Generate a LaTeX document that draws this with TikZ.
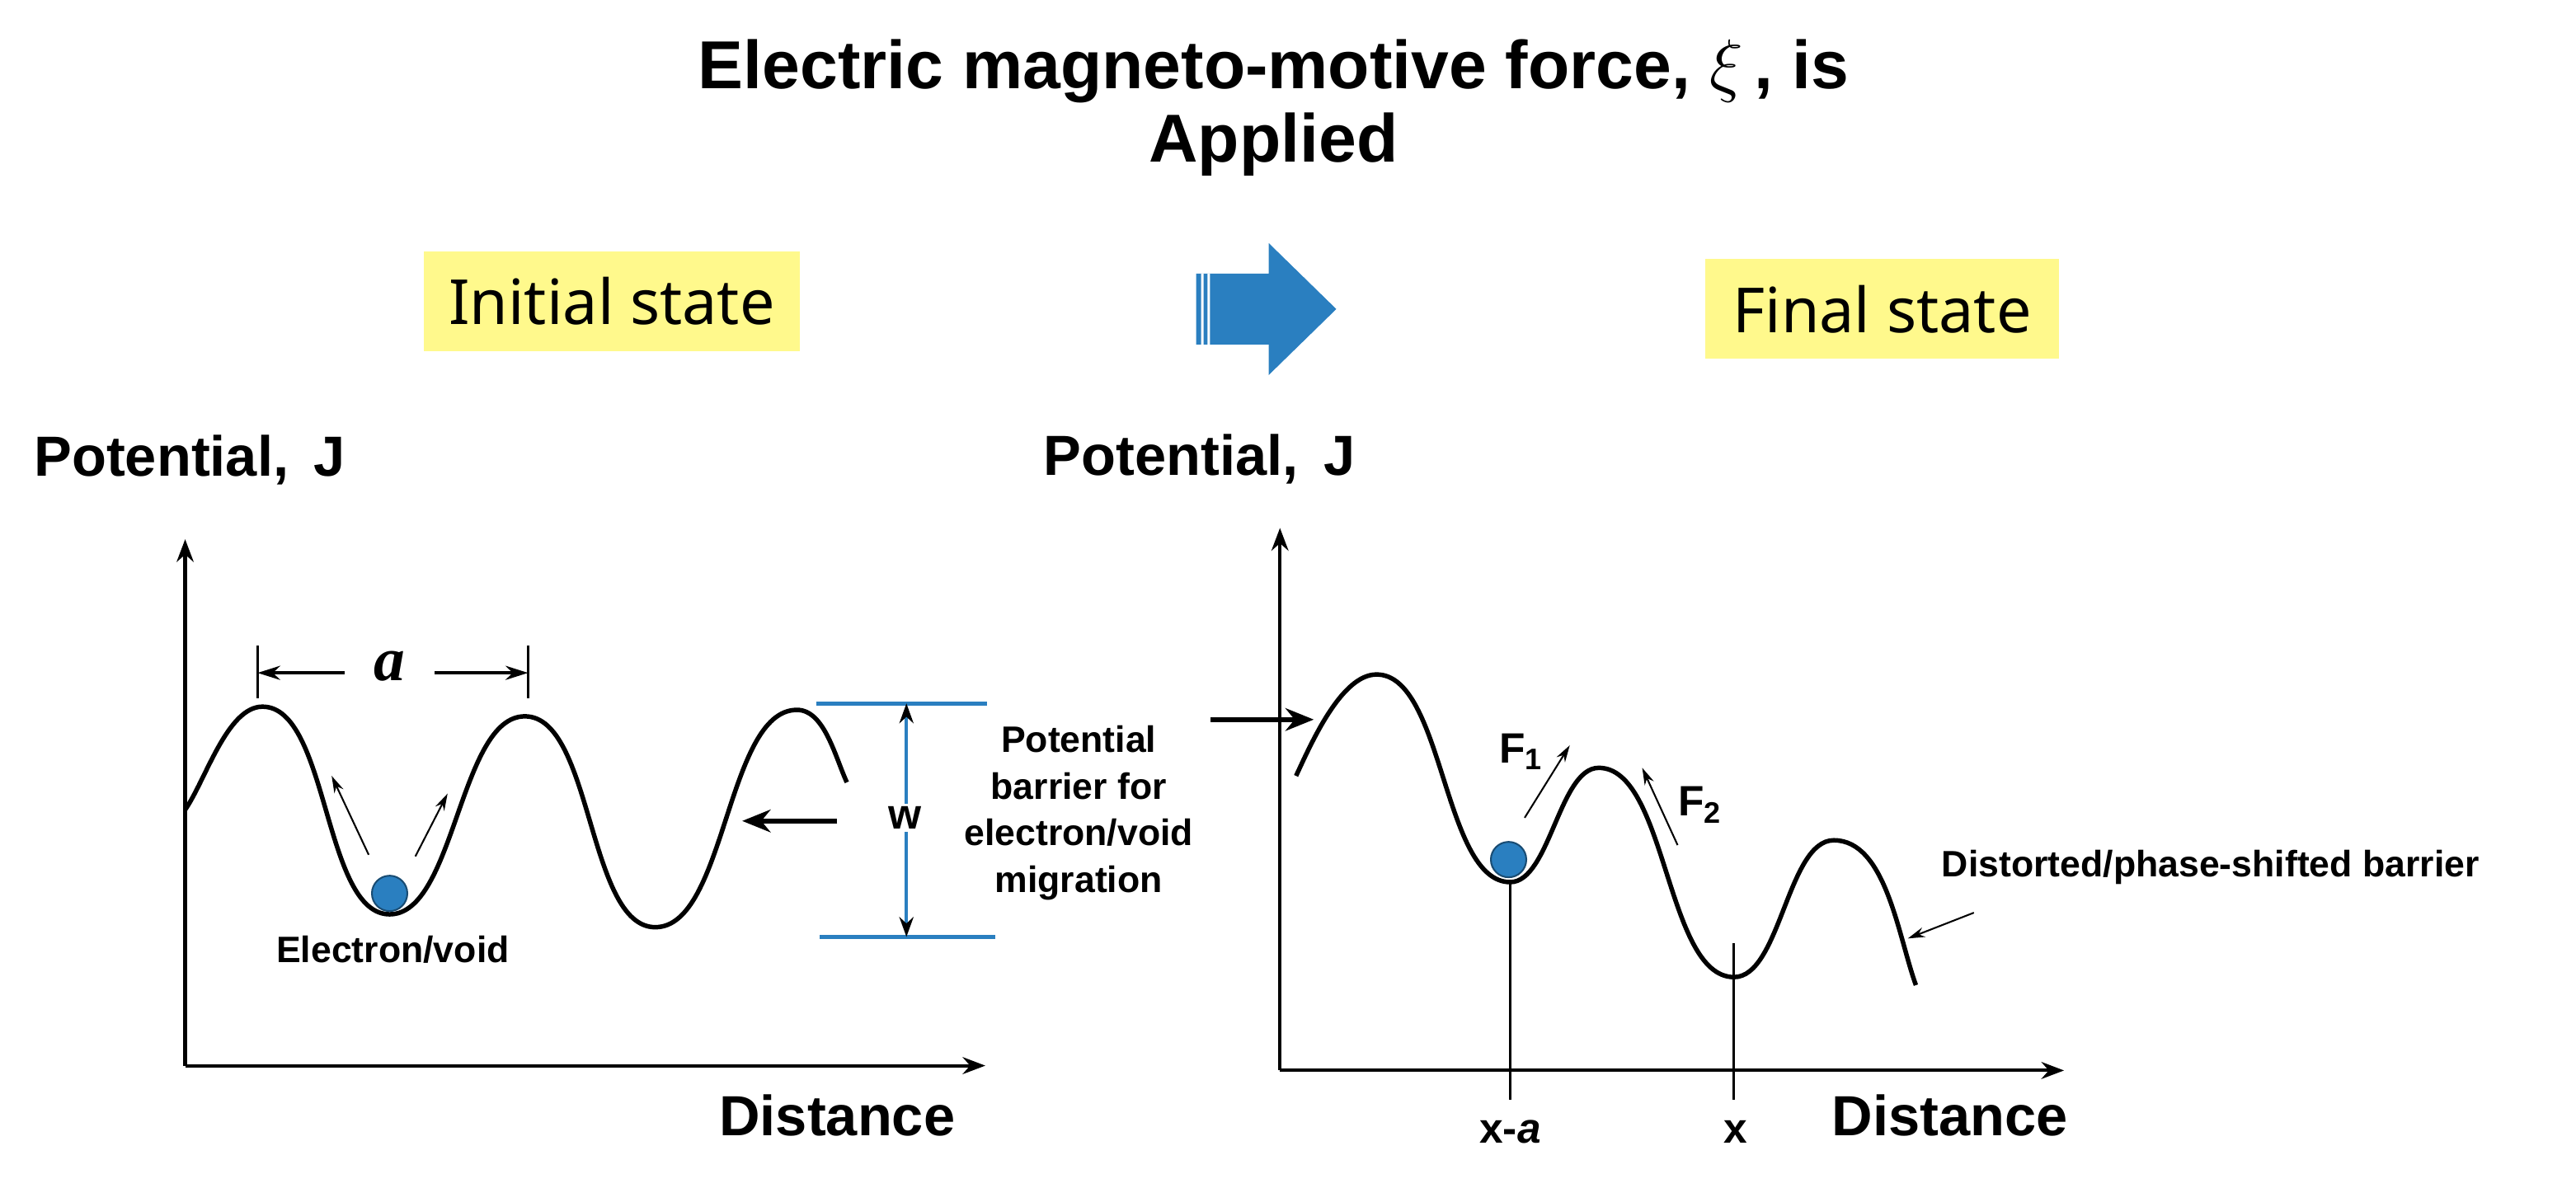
\documentclass[tikz,border=0pt]{standalone}
\usepackage{fontspec}
\setmainfont{Liberation Sans}
\newfontfamily\noto{Noto Sans}
\newfontfamily\serif{Liberation Serif}
\usetikzlibrary{arrows.meta}
\definecolor{myblue}{RGB}{42,127,192}
\begin{document}
\begin{tikzpicture}[x=0.02cm,y=-0.02cm,
  lbl/.style={font=\bfseries\fontsize{20}{24}\selectfont},
  small/.style={font=\bfseries\fontsize{13}{16.5}\selectfont},
  ybox/.style={fill=yellow!45,minimum width=4.68cm,minimum height=1.24cm,font=\noto\fontsize{22}{26}\selectfont},
  axis/.style={line width=1.2pt,-{Stealth[length=8pt,width=6pt]}},
  curve/.style={line width=1.6pt},
  thinarr/.style={line width=0.6pt,-{Stealth[length=6pt,width=3.5pt]}},
  bigarr/.style={line width=1.6pt,-{Stealth[length=10pt,width=8pt]}},
  bline/.style={draw=myblue,line width=1.5pt},
  ball/.style={circle,fill=myblue,draw=myblue!60!black,line width=0.6pt,minimum size=0.44cm,inner sep=0pt}]
\useasboundingbox (0,0) rectangle (1600,738);
% title
\node[font=\bfseries\fontsize{24}{24}\selectfont,align=center] (title) at (791,67) {Electric magneto-motive force, $\xi$\,, is\\[2pt]Applied};
\node[ybox] (init) at (380,187) {Initial state};
\node[ybox,minimum width=4.4cm] (fin) at (1169,192) {Final state};
% blue arrow
\fill[myblue] (743,170) -- (788,170) -- (788,151) -- (830,192) -- (788,233) -- (788,214) -- (743,214) -- cycle;
\fill[white] (746,170) rectangle (747.5,214) (750,170) rectangle (751.5,214);
% ---------- left graph
\node[lbl,anchor=west] (pl) at (15,286) {Potential,\, J};
\coordinate (lo) at (115,662);
\draw[axis] (lo) -- (115,335);
\draw[axis] (lo) -- (612,662);
\node[lbl] (dl) at (520,693) {Distance};
\draw[curve] (115,503) to[out=55,in=180,looseness=0.7] (163,439) to[out=0,in=180,looseness=0.7] (242,568) to[out=0,in=180,looseness=0.7] (326,445) to[out=0,in=180,looseness=0.7] (407,576) to[out=0,in=180,looseness=0.7] (495,441) to[out=0,in=115,looseness=0.8] (526,486);
% a dimension
\draw[line width=1pt] (160,401) -- (160,434) (328,401) -- (328,434);
\node[font=\serif\bfseries\itshape\fontsize{22}{22}\selectfont] (alab) at (242,414) {a};
\coordinate (a1) at (160,418); \coordinate (a2) at (328,418);
\draw[line width=1pt,-{Stealth[length=8pt,width=5pt]}] (214,418) -- (a1);
\draw[line width=1pt,-{Stealth[length=8pt,width=5pt]}] (270,418) -- (a2);
% ball
\node[ball] (b1) at (242,555) {};
\coordinate (s1) at (229,531); \coordinate (e1) at (206,482);
\coordinate (s2) at (258,532); \coordinate (e2) at (278,493);
\draw[thinarr] (s1) -- (e1);
\draw[thinarr] (s2) -- (e2);
\node[small] (ev) at (244,590) {Electron/void};
% barrier
\coordinate (ha) at (520,510); \coordinate (hb) at (461,510);
\draw[bigarr] (ha) -- (hb);
\coordinate (t1) at (507,437); \coordinate (t2) at (613,437);
\coordinate (u1) at (509,582); \coordinate (u2) at (618,582);
\draw[bline] (t1) -- (t2);
\draw[bline] (u1) -- (u2);
\coordinate (wt) at (563,437); \coordinate (wb) at (563,582);
\draw[line width=1.1pt,draw=myblue,{Stealth[length=7pt,width=5pt,color=black]}-{Stealth[length=7pt,width=5pt,color=black]}] (wt) -- (wb);
\node[small,fill=white,inner sep=1pt,font=\bfseries\fontsize{15}{15}\selectfont] (w) at (562,508) {w};
\node[small,align=center] (pb) at (670,505) {Potential\\barrier for\\electron/void\\migration};
% ---------- right graph
\node[lbl] (pr) at (745,285) {Potential,\, J};
\coordinate (ro) at (795,665);
\draw[axis] (ro) -- (795,328);
\draw[axis] (ro) -- (1282,665);
\node[lbl] (dr) at (1211,693) {Distance};
\draw[curve] (805,482) to[out=65,in=180,looseness=0.7] (855,419) to[out=0,in=180,looseness=0.7] (938,548) to[out=0,in=180,looseness=0.7] (993,477) to[out=0,in=180,looseness=0.7] (1077,607) to[out=0,in=180,looseness=0.7] (1139,522) to[out=0,in=110,looseness=0.8] (1190,612);
\draw[line width=0.8pt] (938,548) -- (938,683) (1077,586) -- (1077,683);
\node[small,font=\bfseries\fontsize{15}{15}\selectfont] (xa) at (938,703) {x-\textit{a}};
\node[small,font=\bfseries\fontsize{15}{15}\selectfont] (xx) at (1078,703) {x};
\node[ball] (b2) at (937,534) {};
\coordinate (f1s) at (947,508); \coordinate (f1e) at (975,463);
\coordinate (f2s) at (1042,525); \coordinate (f2e) at (1020,477);
\draw[thinarr] (f1s) -- (f1e);
\draw[thinarr] (f2s) -- (f2e);
\node[small,font=\bfseries\fontsize{15}{15}\selectfont] (F1) at (945,467) {F\textsubscript{1}};
\node[small,font=\bfseries\fontsize{15}{15}\selectfont] (F2) at (1056,500) {F\textsubscript{2}};
\coordinate (ra) at (752,447); \coordinate (rb) at (816,447);
\draw[bigarr] (ra) -- (rb);
\node[small] (dist) at (1373,539) {Distorted/phase-shifted barrier};
\coordinate (da) at (1226,567); \coordinate (db) at (1185,583);
\draw[thinarr] (da) -- (db);
\end{tikzpicture}
\end{document}
